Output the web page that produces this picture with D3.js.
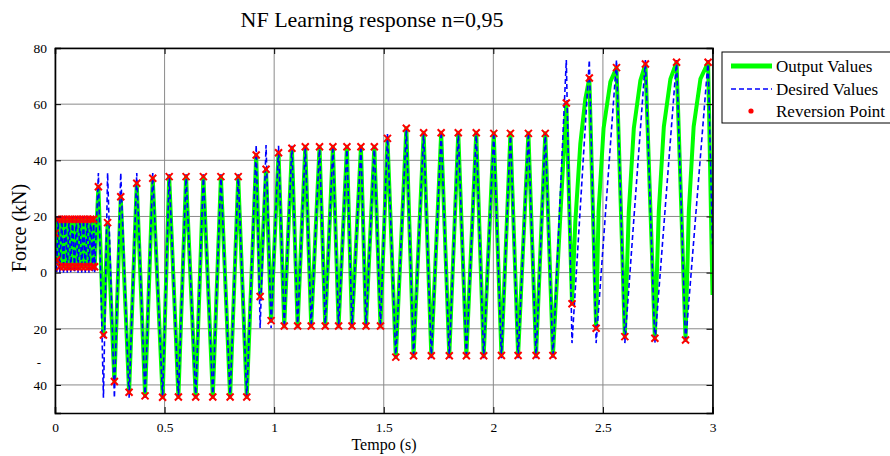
<!DOCTYPE html>
<html>
<head>
<meta charset="utf-8">
<script src="https://cdn.jsdelivr.net/npm/d3@7"></script>
<style>
	body { margin: 0; background: #fff; }
	text { font-family: "Liberation Serif", "Times New Roman", serif; fill: #000; }
</style>
</head>
<body>
<div id="chart"></div>
<script>
// [tempo (s), force (kN)]
var reversionPoints = [
	[0, 14], [0.008, 4.5],
	[0.014, 19], [0.022, 2.1], [0.031, 19], [0.039, 2.1], [0.047, 19], [0.056, 2.1], [0.064, 19], [0.072, 2.1],
	[0.080, 19], [0.089, 2.1], [0.097, 19], [0.105, 2.1], [0.114, 19], [0.122, 2.1], [0.130, 19], [0.138, 2.1],
	[0.147, 19], [0.155, 2.1], [0.163, 19], [0.172, 2.1], [0.176, 19], [0.181, 2.1],
	[0.198, 30.6], [0.221, -22.2], [0.240, 17.8], [0.271, -38.8], [0.300, 27.0], [0.338, -42.6], [0.373, 31.8], [0.411, -43.9],
	[0.446, 33.6], [0.491, -44.4], [0.521, 34.2], [0.563, -44.3], [0.598, 34.2], [0.642, -44.3], [0.677, 34.2], [0.720, -44.3],
	[0.757, 34.2], [0.799, -44.3], [0.836, 34.2], [0.875, -44.3],
	[0.918, 41.9], [0.936, -8.5], [0.963, 36.8], [0.986, -17.1], [1.020, 42.7], [1.046, -19.0], [1.081, 44.3], [1.107, -19.0],
	[1.142, 44.8], [1.169, -19.0], [1.207, 44.8], [1.233, -19.0], [1.268, 44.8], [1.294, -19.0], [1.332, 44.8], [1.355, -19.0],
	[1.396, 44.8], [1.419, -19.0], [1.457, 44.8], [1.485, -19.0],
	[1.517, 47.8], [1.555, -30.1], [1.603, 51.4], [1.636, -29.6], [1.682, 49.8], [1.717, -29.6], [1.762, 49.8], [1.799, -29.6],
	[1.840, 49.8], [1.877, -29.6], [1.922, 49.8], [1.956, -29.6], [2.002, 49.6], [2.037, -29.5], [2.078, 49.6], [2.113, -29.5],
	[2.160, 49.6], [2.195, -29.5], [2.237, 49.6], [2.272, -29.5],
	[2.333, 60.4], [2.359, -11.1], [2.438, 69.3], [2.469, -19.8], [2.562, 73.0], [2.600, -22.8], [2.694, 74.3], [2.737, -23.4],
	[2.836, 74.9], [2.877, -24.0], [2.980, 74.9]
];

// output samples between reversion points (curved rises at the end)
var outputExtra = [
	[2.374, 18], [2.397, 46], [2.420, 62],
	[2.480, 21.7], [2.503, 51.4], [2.534, 68],
	[2.618, 21.7], [2.641, 51.4], [2.671, 68.5],
	[2.755, 22], [2.778, 52], [2.808, 69],
	[2.892, 22], [2.914, 52], [2.945, 69],
	[3.0, -8]
];

var desiredPoints = [
	[0, 14], [0.008, 0],
	[0.014, 20.2], [0.022, 0], [0.031, 20.2], [0.039, 0], [0.047, 20.2], [0.056, 0], [0.064, 20.2], [0.072, 0],
	[0.080, 20.2], [0.089, 0], [0.097, 20.2], [0.105, 0], [0.114, 20.2], [0.122, 0], [0.130, 20.2], [0.138, 0],
	[0.147, 20.2], [0.155, 0], [0.163, 20.2], [0.172, 0], [0.176, 20.2], [0.181, 0],
	[0.198, 35.5], [0.221, -44.6], [0.240, 35.5], [0.271, -44.6], [0.300, 35.5], [0.338, -44.6], [0.373, 35.5], [0.411, -44.6],
	[0.446, 35.5], [0.491, -44.6], [0.521, 35], [0.563, -44.6], [0.598, 35], [0.642, -44.6], [0.677, 35], [0.720, -44.6],
	[0.757, 35], [0.799, -44.6], [0.836, 35], [0.875, -44.6],
	[0.918, 45.4], [0.936, -19.7], [0.963, 45.4], [0.986, -19.7], [1.020, 45.2], [1.046, -19.5], [1.081, 45.2], [1.107, -19.5],
	[1.142, 45.2], [1.169, -19.5], [1.207, 45.2], [1.233, -19.5], [1.268, 45.2], [1.294, -19.5], [1.332, 45.2], [1.355, -19.5],
	[1.396, 45.2], [1.419, -19.5], [1.457, 45.2], [1.485, -19.5],
	[1.517, 49.4], [1.555, -30.5], [1.603, 51.4], [1.636, -30.5], [1.682, 50.2], [1.717, -30.5], [1.762, 50.2], [1.799, -30.5],
	[1.840, 50.2], [1.877, -30.5], [1.922, 50.2], [1.956, -30.5], [2.002, 50.0], [2.037, -30.5], [2.078, 50.0], [2.113, -30.5],
	[2.160, 50.0], [2.195, -30.5], [2.237, 50.0], [2.272, -30.5],
	[2.333, 75.7], [2.359, -25.1], [2.438, 75.7], [2.469, -25.1], [2.562, 75.7], [2.600, -25.1], [2.694, 75.7], [2.737, -25.1],
	[2.836, 75.7], [2.877, -25.1], [2.980, 75.7], [3.0, 10]
];

var xTicks = [0, 0.5, 1, 1.5, 2, 2.5, 3];
var xTickLabels = ["0", "0.5", "1", "1.5", "2", "2.5", "3"];
var yTicks = [-40, -20, 0, 20, 40, 60, 80];
var yTickLabels = ["40", "20", "0", "20", "40", "60", "80"];
var legendLabels = ["Output Values", "Desired Values", "Reversion Point"];

var W = 890, H = 456;
var plot = { left: 55, right: 712.5, top: 48, bottom: 413 };

var x = d3.scaleLinear().domain([0, 3]).range([plot.left, plot.right]);
var y = d3.scaleLinear().domain([-50, 80]).range([plot.bottom, plot.top]);

var svg = d3.select('#chart')
	.append('svg')
	.attr('width', W)
	.attr('height', H);

svg.append('defs').append('clipPath')
	.attr('id', 'plotClip')
	.append('rect')
	.attr('x', plot.left)
	.attr('y', plot.top)
	.attr('width', plot.right - plot.left)
	.attr('height', plot.bottom - plot.top);

// grid
svg.append('g').selectAll('line')
	.data(xTicks)
	.enter().append('line')
	.attr('x1', function(d) { return x(d); }).attr('x2', function(d) { return x(d); })
	.attr('y1', plot.top).attr('y2', plot.bottom)
	.attr('stroke', '#8a8a8a').attr('stroke-width', 1);

svg.append('g').selectAll('line')
	.data(yTicks)
	.enter().append('line')
	.attr('x1', plot.left).attr('x2', plot.right)
	.attr('y1', function(d) { return y(d); }).attr('y2', function(d) { return y(d); })
	.attr('stroke', '#8a8a8a').attr('stroke-width', 1);

// series
var line = d3.line()
	.x(function(d) { return x(d[0]); })
	.y(function(d) { return y(d[1]); });

var outputPoints = reversionPoints.concat(outputExtra).sort(function(a, b) { return a[0] - b[0]; });

var series = svg.append('g').attr('clip-path', 'url(#plotClip)');

series.append('path')
	.datum(outputPoints)
	.attr('d', line)
	.attr('fill', 'none')
	.attr('stroke', '#00ff00')
	.attr('stroke-width', 4)
	.attr('stroke-linejoin', 'round');

series.append('path')
	.datum(desiredPoints)
	.attr('d', line)
	.attr('fill', 'none')
	.attr('stroke', '#0000ff')
	.attr('stroke-width', 1.6)
	.attr('stroke-dasharray', '5,3');

series.selectAll('path.rev')
	.data(reversionPoints)
	.enter().append('path')
	.attr('class', 'rev')
	.attr('d', function(d) {
		var cx = x(d[0]), cy = y(d[1]), s = 3.5;
		return 'M' + (cx - s) + ',' + (cy - s) + 'L' + (cx + s) + ',' + (cy + s) +
			'M' + (cx + s) + ',' + (cy - s) + 'L' + (cx - s) + ',' + (cy + s);
	})
	.attr('stroke', '#ff0000')
	.attr('stroke-width', 2);

// axes with inward ticks on all four sides
var axes = svg.append('g');
axes.append('g')
	.attr('transform', 'translate(0,' + plot.bottom + ')')
	.call(d3.axisBottom(x).tickValues(xTicks).tickSize(-6).tickPadding(9)
		.tickFormat(function(d, i) { return xTickLabels[i]; }));
axes.append('g')
	.attr('transform', 'translate(0,' + plot.top + ')')
	.call(d3.axisTop(x).tickValues(xTicks).tickSize(-6).tickFormat(''));
axes.append('g')
	.attr('transform', 'translate(' + plot.left + ',0)')
	.call(d3.axisLeft(y).tickValues(yTicks).tickSize(-6).tickPadding(8)
		.tickFormat(function(d, i) { return yTickLabels[i]; }));
axes.append('g')
	.attr('transform', 'translate(' + plot.right + ',0)')
	.call(d3.axisRight(y).tickValues(yTicks).tickSize(-6).tickFormat(''));

axes.selectAll('.domain').attr('stroke', '#000').attr('stroke-width', 1.6);
axes.selectAll('.tick line').attr('stroke', '#000');
axes.selectAll('.tick text')
	.style('font-family', '"Liberation Serif", "Times New Roman", serif')
	.style('font-size', '13.5px')
	.attr('fill', '#000');

// labels
svg.append('text')
	.attr('x', 372).attr('y', 26.5)
	.attr('text-anchor', 'middle')
	.style('font-size', '22px')
	.text('NF Learning response n=0,95');

svg.append('text')
	.attr('x', 384).attr('y', 450)
	.attr('text-anchor', 'middle')
	.style('font-size', '16px')
	.text('Tempo (s)');

svg.append('text')
	.attr('transform', 'translate(26,228) rotate(-90)')
	.attr('text-anchor', 'middle')
	.style('font-size', '20px')
	.text('Force (kN)');

svg.append('text')
	.attr('x', 39).attr('y', 367)
	.attr('text-anchor', 'middle')
	.style('font-size', '13px')
	.text('-');

// legend
var legend = svg.append('g').attr('transform', 'translate(722,52)');
legend.append('rect')
	.attr('width', 180).attr('height', 71)
	.attr('fill', '#fff').attr('stroke', '#000').attr('stroke-width', 1);

var rowY = [14, 37, 59];
legend.append('line')
	.attr('x1', 9).attr('x2', 50).attr('y1', rowY[0]).attr('y2', rowY[0])
	.attr('stroke', '#00ff00').attr('stroke-width', 5);
legend.append('line')
	.attr('x1', 9).attr('x2', 50).attr('y1', rowY[1]).attr('y2', rowY[1])
	.attr('stroke', '#0000ff').attr('stroke-width', 1.6).attr('stroke-dasharray', '5,3');
legend.append('circle')
	.attr('cx', 29).attr('cy', rowY[2]).attr('r', 2.6)
	.attr('fill', '#ff0000');

legend.selectAll('text.lab')
	.data(legendLabels)
	.enter().append('text')
	.attr('class', 'lab')
	.attr('x', 54)
	.attr('y', function(d, i) { return rowY[i] + 5.5; })
	.style('font-size', '17px')
	.text(function(d) { return d; });
</script>
</body>
</html>
